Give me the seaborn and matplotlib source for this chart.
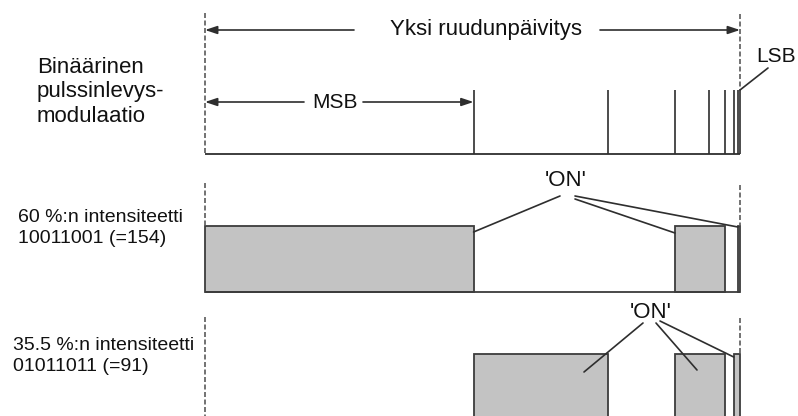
import matplotlib
matplotlib.use("Agg")
import matplotlib.pyplot as plt
import seaborn as sns
import numpy as np

# bittien painot MSB -> LSB
bit_weights = [128, 64, 32, 16, 8, 4, 2, 1]
row_codes = ["10011001", "01011011"]
row_labels = ["60 %:n intensiteetti\n10011001 (=154)",
              "35.5 %:n intensiteetti\n01011011 (=91)"]
top_label = "Binäärinen\npulssinlevys-\nmodulaatio"
frame_label = "Yksi ruudunpäivitys"
msb_label = "MSB"
lsb_label = "LSB"
on_label = "'ON'"

sns.set_theme(style="white")
plt.rcParams['font.family'] = ['Liberation Sans', 'DejaVu Sans']

LINE = "#2e2e2e"
DASH = "#5a5a5a"
FILL = "#c3c3c3"
EDGE = "#3c3c3c"

W, H = 798, 416
X0, X1 = 205, 740          # ruudun alku / loppu pikseleinä
total = sum(bit_weights)
scale = total / (X1 - X0)


def ux(p):
    """pikseli -> bittiyksikkö"""
    return (p - X0) * scale


fig = plt.figure(figsize=(W / 100, H / 100), dpi=100)
ax = fig.add_axes([0, 0, 1, 1])
ax.set_xlim(ux(0), ux(W))
ax.set_ylim(H, 0)
ax.axis("off")

edges = np.concatenate([[0], np.cumsum(bit_weights)])
dash = (0, (3, 1.5))
arrow = dict(arrowstyle="-|>,head_length=0.6,head_width=0.2", color=LINE,
             lw=1.2, mutation_scale=12, shrinkA=0, shrinkB=0)

# --- rivi 1: bittijaksot ---
ax.hlines(154, 0, total, color=LINE, lw=1.3)
ax.vlines(edges[1:], 90, 154, color=LINE, lw=1.2)
ax.vlines(0, 13, 154, color=DASH, lw=1.2, linestyles=dash)
ax.vlines(total, 14, 90, color=DASH, lw=1.2, linestyles=dash)

ax.annotate("", xy=(0, 30), xytext=(ux(354), 30), arrowprops=arrow)
ax.annotate("", xy=(total, 30), xytext=(ux(600), 30), arrowprops=arrow)
ax.text(ux(486), 29, frame_label, ha="center", va="center", fontsize=16, color="#111")

ax.annotate("", xy=(0, 102), xytext=(ux(304), 102), arrowprops=arrow)
ax.annotate("", xy=(edges[1], 102), xytext=(ux(363), 102), arrowprops=arrow)
ax.text(ux(335), 102, msb_label, ha="center", va="center", fontsize=15, color="#111")

ax.plot([ux(768), total], [68, 90], color=LINE, lw=1.2)
ax.text(ux(776), 57, lsb_label, ha="center", va="center", fontsize=15, color="#111")

ax.text(ux(37), 92, top_label, ha="left", va="center", fontsize=16,
        linespacing=1.2, color="#111")


def draw_row(code, top, bottom):
    # yhdistetään peräkkäiset päällä olevat bitit yhdeksi laatikoksi
    i = 0
    while i < len(code):
        if code[i] == "1":
            j = i
            while j + 1 < len(code) and code[j + 1] == "1":
                j += 1
            ax.bar(edges[i], bottom - top, width=edges[j + 1] - edges[i],
                   bottom=top, align="edge", color=FILL, edgecolor=EDGE, lw=1.3)
            i = j + 1
        else:
            i += 1


# --- rivi 2 ---
draw_row(row_codes[0], 226, 292)
ax.hlines(292, 0, total, color=EDGE, lw=1.3)
ax.vlines(0, 183, 226, color=DASH, lw=1.2, linestyles=dash)
ax.vlines(total, 185, 226, color=DASH, lw=1.2, linestyles=dash)
ax.text(ux(18), 228, row_labels[0], ha="left", va="center", fontsize=14,
        linespacing=1.3, color="#111")
ax.text(ux(566), 181, on_label, ha="center", va="center", fontsize=16, color="#111")
ax.plot([ux(560), edges[1]], [196, 232], color=LINE, lw=1.2)
ax.plot([ux(575), edges[3]], [199, 233], color=LINE, lw=1.2)
ax.plot([ux(575), edges[7]], [196, 227], color=LINE, lw=1.2)

# --- rivi 3 ---
draw_row(row_codes[1], 354, 430)
ax.vlines(0, 317, 416, color=DASH, lw=1.2, linestyles=dash)
ax.vlines(total, 318, 354, color=DASH, lw=1.2, linestyles=dash)
ax.text(ux(13), 356, row_labels[1], ha="left", va="center", fontsize=14,
        linespacing=1.3, color="#111")
ax.text(ux(651), 312, on_label, ha="center", va="center", fontsize=16, color="#111")
ax.plot([ux(643), ux(584)], [323, 372], color=LINE, lw=1.2)
ax.plot([ux(656), ux(697)], [323, 370], color=LINE, lw=1.2)
ax.plot([ux(660), edges[6]], [321, 357], color=LINE, lw=1.2)

fig.savefig("out.png", dpi=100, facecolor="white")
